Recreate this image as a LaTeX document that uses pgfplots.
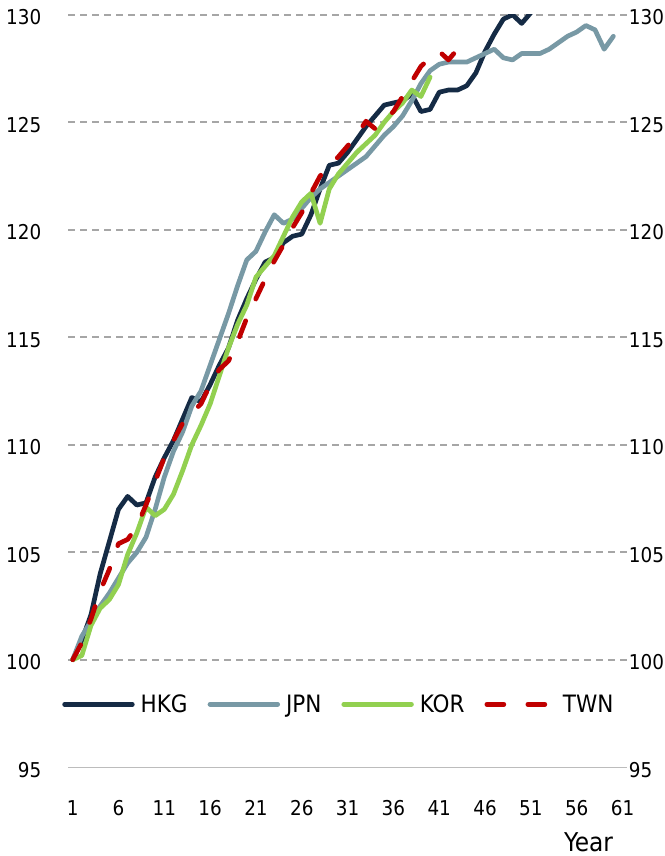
\documentclass[border=0pt]{standalone}
\usepackage{fontspec}
\setmainfont{DejaVu Sans Condensed}
\usepackage{pgfplots}
\usepackage{pgfplotstable}
\pgfplotsset{compat=1.18}
\definecolor{hkg}{HTML}{152B45}
\definecolor{jpn}{HTML}{7899A5}
\definecolor{kor}{HTML}{92D050}
\definecolor{twn}{HTML}{C00000}
\definecolor{gridc}{HTML}{A6A6A6}

\pgfplotstableread{
x y
1 100
2 100.9
3 102.1
4 104.0
5 105.5
6 107.0
7 107.6
8 107.2
9 107.3
10 108.5
11 109.4
12 110.2
13 111.2
14 112.2
15 112.0
16 112.8
17 113.7
18 114.5
19 115.8
20 116.8
21 117.7
22 118.5
23 118.7
24 119.4
25 119.7
26 119.8
27 120.7
28 121.9
29 123.0
30 123.1
31 123.6
32 124.2
33 124.8
34 125.3
35 125.8
36 125.9
37 126.0
38 126.3
39 125.5
40 125.6
41 126.4
42 126.5
43 126.5
44 126.7
45 127.3
46 128.3
47 129.1
48 129.8
49 130.0
50 129.6
51 130.1
}\hkgdata

\pgfplotstableread{
x y
1 100
2 101.1
3 101.8
4 102.5
5 103.1
6 103.8
7 104.5
8 105.0
9 105.7
10 107.0
11 108.5
12 109.7
13 110.6
14 111.8
15 112.5
16 113.7
17 114.9
18 116.1
19 117.4
20 118.6
21 119.0
22 119.9
23 120.7
24 120.3
25 120.5
26 121.0
27 121.5
28 121.9
29 122.2
30 122.5
31 122.8
32 123.1
33 123.4
34 123.9
35 124.4
36 124.8
37 125.3
38 126.0
39 126.8
40 127.4
41 127.7
42 127.8
43 127.8
44 127.8
45 128.0
46 128.2
47 128.4
48 128.0
49 127.9
50 128.2
51 128.2
52 128.2
53 128.4
54 128.7
55 129.0
56 129.2
57 129.5
58 129.3
59 128.4
60 129.0
}\jpndata

\pgfplotstableread{
x y
1 100
2 100.2
3 101.6
4 102.4
5 102.8
6 103.5
7 104.9
8 105.9
9 107.1
10 106.7
11 107.0
12 107.7
13 108.8
14 110.0
15 110.9
16 111.9
17 113.2
18 114.5
19 115.6
20 116.5
21 117.8
22 118.3
23 118.8
24 119.7
25 120.6
26 121.3
27 121.7
28 120.3
29 121.9
30 122.6
31 123.1
32 123.6
33 124.0
34 124.4
35 125.0
36 125.5
37 125.9
38 126.5
39 126.2
40 127.1
}\kordata

\pgfplotstableread{
x y
1 100
2 100.8
3 101.9
4 103.2
5 104.2
6 105.4
7 105.6
8 106.2
9 107.2
10 108.3
11 109.4
12 110.2
13 111.0
14 111.5
15 111.9
16 112.8
17 113.5
18 113.9
19 114.8
20 115.9
21 116.8
22 117.7
23 118.55
24 119.3
25 120.1
26 120.8
27 121.7
28 122.5
29 123.0
30 123.4
31 123.9
32 124.4
33 125.05
34 124.7
35 125.1
36 125.5
37 126.2
38 126.9
39 127.6
40 128.0
41 128.3
42 127.9
43 128.4
}\twndata

\begin{document}
\begin{tikzpicture}
\pgfplotsset{
  common/.style={
    scale only axis, width=559bp, height=752.5bp,
    xmin=0.5, xmax=61.5, ymin=95, ymax=130,
    ytick={95,100,...,130},
    major tick length=0pt,
    /pgf/number format/assume math mode=true,
    ticklabel style={font=\fontsize{20.5}{24}\selectfont, inner sep=0pt, text=black},
  }
}
\begin{axis}[common,
  axis x line=right, axis y line=right, yticklabel pos=right,
  x axis line style={draw=none}, y axis line style={draw=none},
  xtick=\empty,
  yticklabel style={anchor=west, xshift=1.7bp, yshift=-2.5bp},
]
\addplot[draw=none] coordinates {(1,100)};
\end{axis}
\begin{axis}[common,
  axis x line*=bottom, axis y line*=left,
  x axis line style={draw=gridc!75, line width=1.6bp, -},
  y axis line style={draw=none},
  xtick={1,6,...,61},
  ymajorgrids,
  grid style={gridc, line width=1.6bp, dash pattern=on 7bp off 5bp},
  yticklabel style={anchor=east, xshift=-26.6bp, yshift=-2.5bp},
  xticklabel style={anchor=north, yshift=-32.7bp},
  legend columns=4,
  legend style={at={(rel axis cs:-0.0104,0.0837)}, anchor=west,
    draw=none, fill=none, inner sep=0pt, outer sep=0pt,
    font=\fontsize{24}{28}\selectfont,
    nodes={inner sep=0pt},
    /tikz/every odd column/.append style={column sep=6bp},
    /tikz/every even column/.append style={column sep=20bp}},
  legend image code/.code={\draw[#1] (0bp,0bp) -- (67.7bp,0bp);},
]
\addplot[hkg, line width=4.7bp, line join=round, line cap=round] table[x=x,y=y] {\hkgdata};
\addlegendentry{HKG}
\addplot[jpn, line width=4.7bp, line join=round, line cap=round] table[x=x,y=y] {\jpndata};
\addlegendentry{JPN}
\addplot[kor, line width=4.7bp, line join=round, line cap=round] table[x=x,y=y] {\kordata};
\addlegendentry{KOR}
\addplot[twn, line width=4.7bp, line join=round, line cap=round, dash pattern=on 17bp off 24bp] table[x=x,y=y] {\twndata};
\addlegendentry{TWN}
\end{axis}
\node[anchor=base, inner sep=0pt, font=\fontsize{26}{30}\selectfont] at (520.4bp,-84.2bp) {Year};
\pgfresetboundingbox
\path[use as bounding box] (-68.1bp,-88.7bp) rectangle (596.9bp,767.3bp);
\end{tikzpicture}
\end{document}
